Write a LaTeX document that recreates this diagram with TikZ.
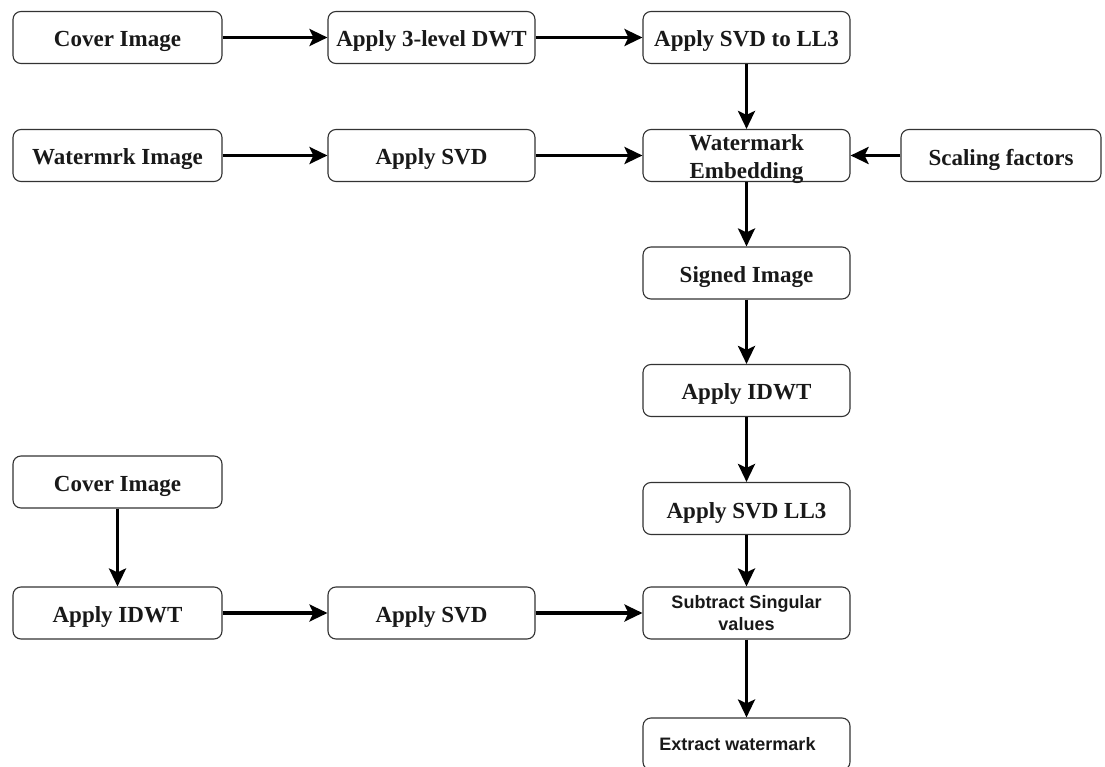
\documentclass[tikz,border=0pt]{standalone}
\usepackage{fontspec}
\setmainfont{Liberation Serif}
\newfontfamily\sansbf{Liberation Sans}
\usetikzlibrary{arrows.meta}

% lower a label a little without changing its box
\newcommand{\lowered}[1]{\raisebox{-4pt}[\height][\depth]{#1}}

\tikzset{
  flowbox/.style={draw=black!80, line width=1.1pt, rounded corners=8pt, fill=white,
    minimum width=207pt, minimum height=52pt, inner sep=0pt, align=center,
    font=\fontsize{23}{28}\selectfont\bfseries, text=black!90},
  sansbox/.style={flowbox, font=\sansbf\fontsize{18}{22}\selectfont\bfseries},
  flow/.style={line width=3.3pt, -{Stealth[length=18pt,width=17pt,inset=4pt]}, black},
}

\begin{document}
\begin{tikzpicture}[x=1pt,y=-1pt]
  \useasboundingbox (0,0) rectangle (1105,767);
  \fill[white] (0,0) rectangle (1105,767);
  \clip (0,0) rectangle (1105,767);

  % embedding chain
  \node[flowbox, minimum width=209pt] (cover)  at (117.5,37.5) {\lowered{Cover Image}};
  \node[flowbox] (dwt)    at (431.5,37.5) {\lowered{Apply 3-level DWT}};
  \node[flowbox] (svdll)  at (746.5,37.5) {\lowered{Apply SVD to LL3}};

  \node[flowbox, minimum width=209pt] (wmimg)  at (117.5,155.5) {\lowered{Watermrk Image}};
  \node[flowbox] (svdw)   at (431.5,155.5) {\lowered{Apply SVD}};
  \node[flowbox] (embed)  at (746.5,155.5) {\lowered{Watermark}\\\lowered{Embedding}};
  \node[flowbox, minimum width=200pt] (scale) at (1001,155.5) {\lowered{Scaling factors}};

  \node[flowbox] (signed) at (746.5,273) {\lowered{Signed Image}};
  \node[flowbox] (idwt)   at (746.5,390.5) {\lowered{Apply IDWT}};
  \node[flowbox] (svdll2) at (746.5,508.5) {\lowered{Apply SVD LL3}};

  % extraction chain
  \node[flowbox, minimum width=209pt] (cover2) at (117.5,482) {\lowered{Cover Image}};
  \node[flowbox, minimum width=209pt] (idwt2)  at (117.5,613) {\lowered{Apply IDWT}};
  \node[flowbox] (svd2)   at (431.5,613) {\lowered{Apply SVD}};
  \node[sansbox] (sub)    at (746.5,613) {Subtract Singular\\values};
  \node[sansbox] (extract) at (746.5,744) {Extract watermark\hspace*{18pt}};

  % connectors
  \draw[flow] (cover) -- (dwt);
  \draw[flow] (dwt) -- (svdll);
  \draw[flow] (svdll) -- (embed);
  \draw[flow] (wmimg) -- (svdw);
  \draw[flow] (svdw) -- (embed);
  \draw[flow] (scale) -- (embed);
  \draw[flow] (embed) -- (signed);
  \draw[flow] (signed) -- (idwt);
  \draw[flow] (idwt) -- (svdll2);
  \draw[flow] (svdll2) -- (sub);
  \draw[flow] (cover2) -- (idwt2);
  \draw[flow] (idwt2) -- (svd2);
  \draw[flow] (svd2) -- (sub);
  \draw[flow] (sub) -- (extract);
\end{tikzpicture}
\end{document}
